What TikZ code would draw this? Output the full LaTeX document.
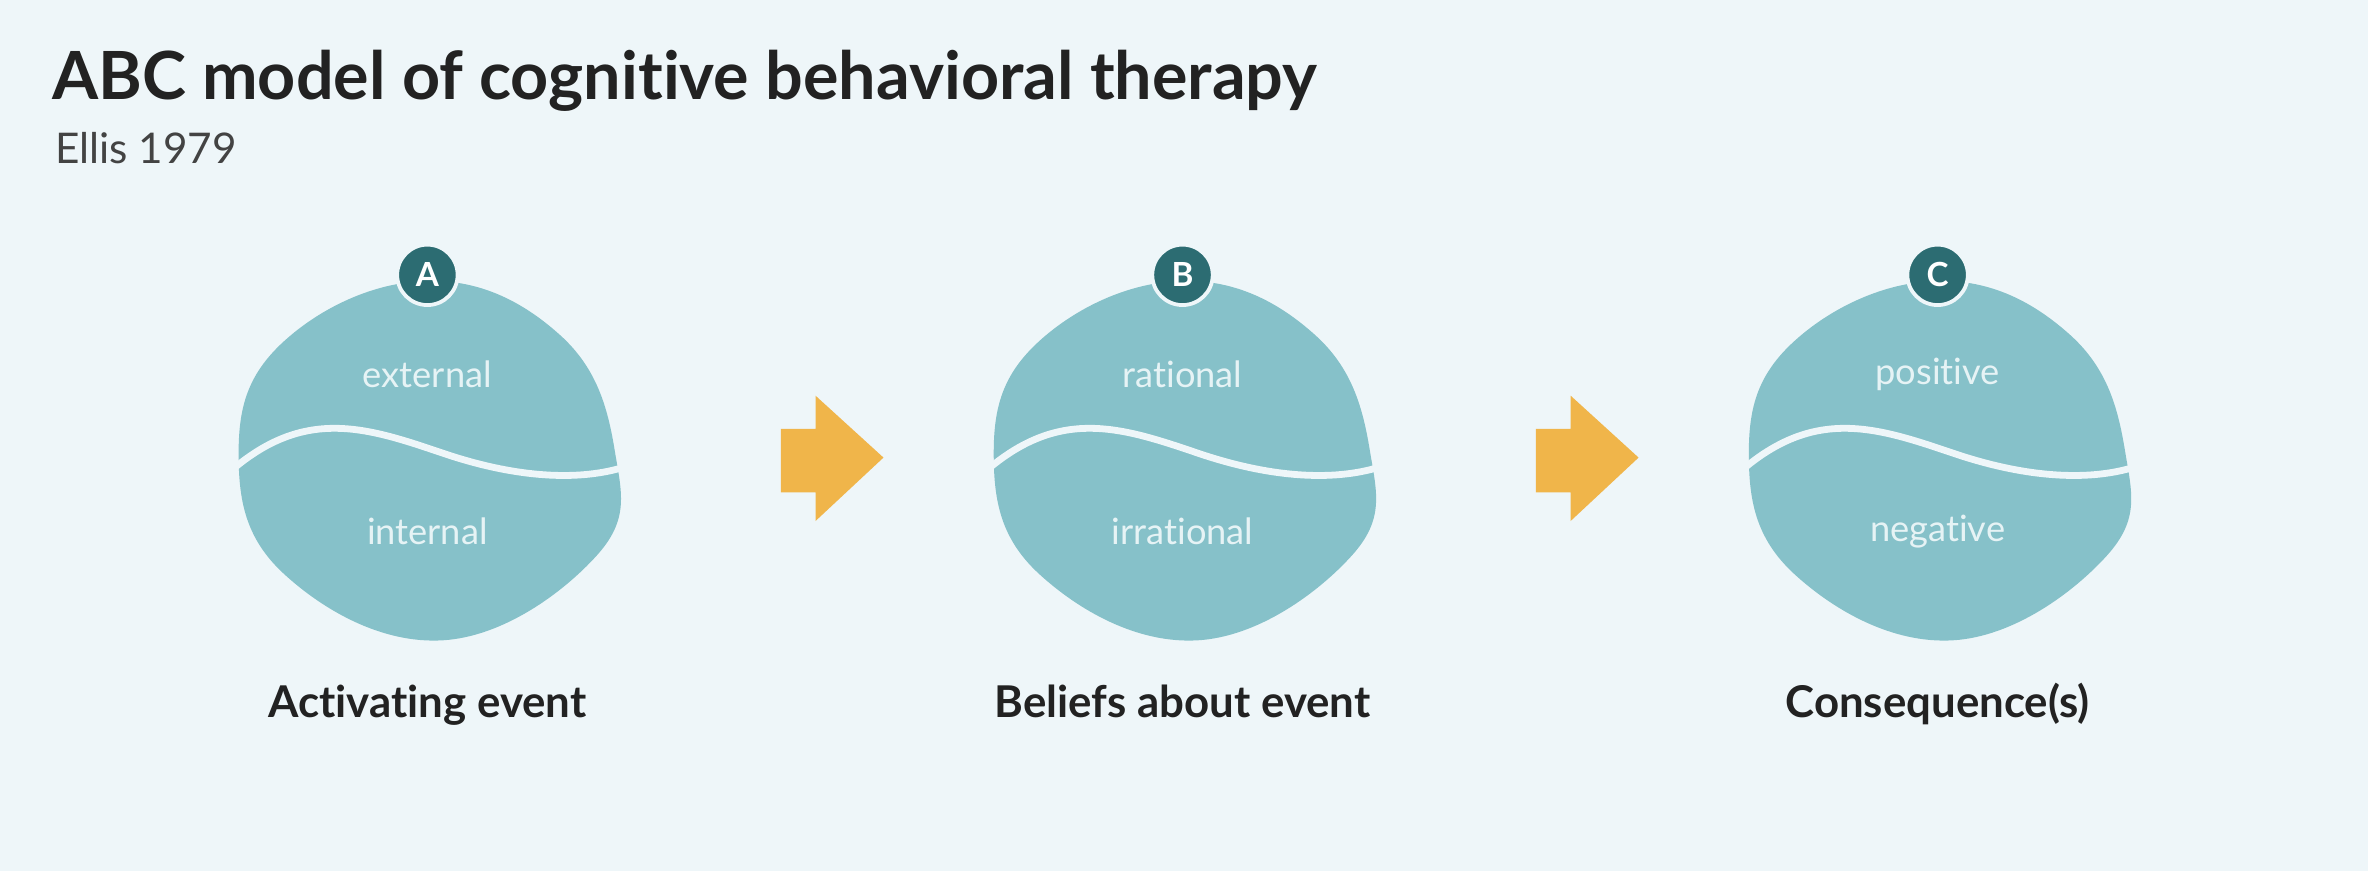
\documentclass[tikz,border=0pt]{standalone}
\usepackage{fontspec}
\setmainfont[Ligatures={NoCommon}]{Lato}
\definecolor{bg}{HTML}{EEF6F9}
\definecolor{blob}{HTML}{86C1C9}
\definecolor{badge}{HTML}{2C6C72}
\definecolor{arr}{HTML}{F0B54A}
\definecolor{ink}{HTML}{222222}
\definecolor{lbl}{HTML}{E6F3F5}
\begin{document}
\begin{tikzpicture}[x=1pt,y=-1pt,
  inlbl/.style={text=lbl,font=\fontsize{24}{27}\selectfont},
  captext/.style={text=ink,anchor=base,font=\bfseries\fontsize{29}{32}\selectfont},
  badgebox/.style={circle,fill=badge,draw=bg,line width=2.5pt,text=white,minimum size=40pt,inner sep=0pt,font=\bfseries\fontsize{22}{24}\selectfont},
  wave/.style={draw=bg,line width=4.5pt}]
\useasboundingbox[fill=bg] (0,0) rectangle (1568,577);
\node[anchor=base west,text=ink,font=\bfseries\fontsize{44}{48}\selectfont] (title) at (31,66) {ABC model of cognitive behavioral therapy};
\node[anchor=base west,text=ink!85,font=\fontsize{28}{30}\selectfont] (sub) at (33,108) {Ellis 1979};
\foreach \cx/\L/\up/\dn/\capt [count=\i] in {283/A/external/internal/Activating event, 783/B/rational/irrational/Beliefs about event, 1283/C/positive/negative/Consequence(s)}{
  \begin{scope}[shift={(\cx,0)}]
    \fill[blob] plot[smooth cycle,tension=0.7] coordinates {(0,186) (88,222) (124,298) (112,368) (10,424) (-95,380) (-125,300) (-95,226)};
    \draw[wave] (-128,310) .. controls (-80,270) and (-40,283) .. (10,300) .. controls (60,317) and (100,318) .. (128,310);
    \node[inlbl] (u\i) at (0,248) {\up};
    \node[inlbl] (d\i) at (0,352) {\dn};
    \node[badgebox] (b\i) at (0,182) {\L};
    \node[captext] (c\i) at (0,475) {\capt};
  \end{scope}
}
\foreach \ax [count=\j] in {517,1017}{
  \fill[arr] (\ax,284) -- (\ax+23,284) -- (\ax+23,262) -- (\ax+68,303) -- (\ax+23,345) -- (\ax+23,326) -- (\ax,326) -- cycle;
}
\end{tikzpicture}
\end{document}
